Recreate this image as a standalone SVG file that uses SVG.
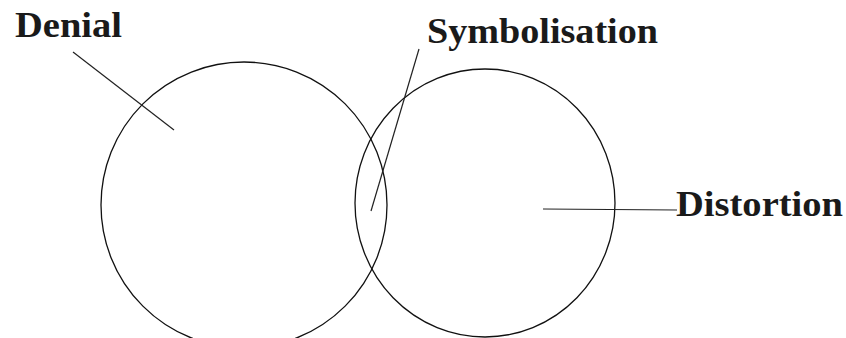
<svg xmlns="http://www.w3.org/2000/svg" width="846" height="338" viewBox="0 0 846 338">
<style>
.c{fill:none;stroke:#111;stroke-width:1.3}
.l{fill:none;stroke:#222;stroke-width:1.2}
.t{font-family:"Liberation Serif","Times New Roman",serif;font-weight:bold;font-size:36px;fill:#1a1a1a}
</style>
<rect width="846" height="338" fill="#fff"/>
<g id="denial">
<ellipse class="c" cx="244" cy="205" rx="143" ry="143"/>
<text class="t" x="15" y="37" textLength="107" lengthAdjust="spacingAndGlyphs">Denial</text>
</g>
<g id="distortion">
<ellipse class="c" cx="485" cy="203" rx="130" ry="134"/>
<text class="t" x="676" y="216" textLength="167" lengthAdjust="spacingAndGlyphs">Distortion</text>
</g>
<g id="symbolisation">
<text class="t" x="427" y="43" textLength="231" lengthAdjust="spacingAndGlyphs">Symbolisation</text>
</g>
<g id="connectors">
<line class="l" x1="73" y1="52" x2="174" y2="130"/>
<line class="l" x1="419" y1="49" x2="371" y2="211"/>
<line class="l" x1="543" y1="209" x2="677" y2="210"/>
</g>
</svg>
